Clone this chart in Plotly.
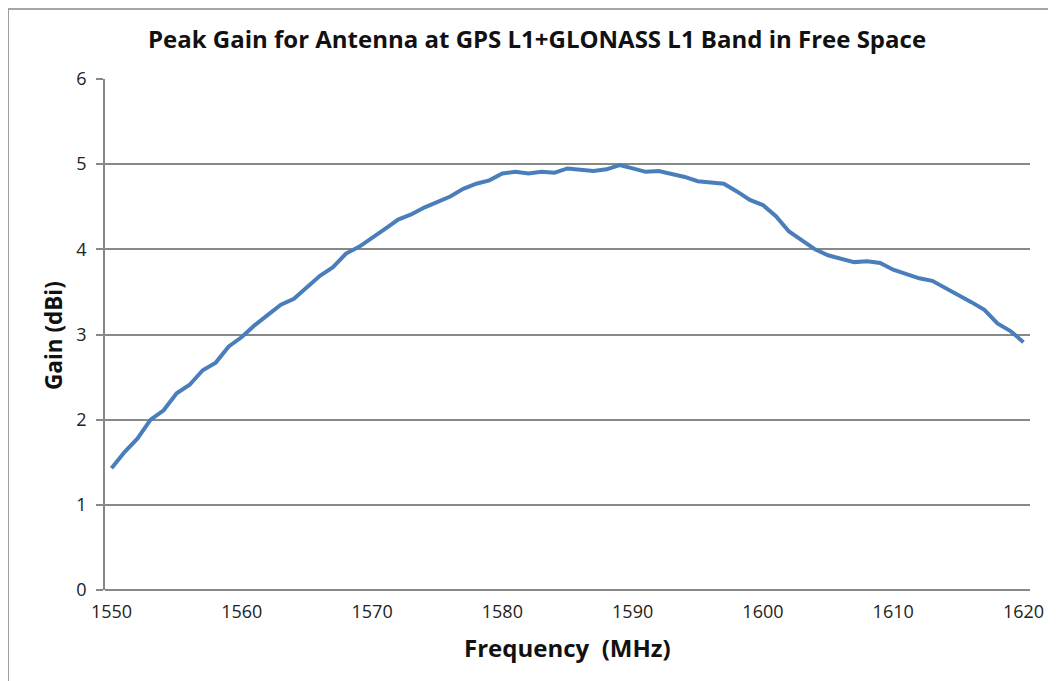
import plotly.graph_objects as go

freq_mhz = list(range(1550, 1621))
gain_dbi = [
    1.43, 1.62, 1.78, 2.00, 2.11, 2.31, 2.41, 2.58, 2.67, 2.86,
    2.97, 3.11, 3.23, 3.35, 3.42, 3.55, 3.69, 3.79, 3.95, 4.03,
    4.13, 4.24, 4.35, 4.41, 4.49, 4.56, 4.62, 4.71, 4.77, 4.81,
    4.89, 4.91, 4.89, 4.91, 4.90, 4.95, 4.94, 4.92, 4.94, 4.99,
    4.95, 4.91, 4.92, 4.89, 4.85, 4.80, 4.79, 4.77, 4.68, 4.58,
    4.52, 4.39, 4.21, 4.10, 4.00, 3.93, 3.89, 3.85, 3.86, 3.84,
    3.76, 3.71, 3.66, 3.63, 3.55, 3.46, 3.38, 3.29, 3.13, 3.04,
    2.91,
]
x_ticks = [1550, 1560, 1570, 1580, 1590, 1600, 1610, 1620]
y_ticks = [0, 1, 2, 3, 4, 5, 6]

title_text = "Peak Gain for Antenna at GPS L1+GLONASS L1 Band in Free Space"
x_title = "Frequency  (MHz)"
y_title = "Gain (dBi)"

# page body has an 8px margin; figure coordinates are screen minus 8
OFF = 8
W, H = 1056, 681
L, T = 105 - OFF, 79 - OFF
pw, ph = 1030 - 105, 590 - 79
R = W - L - pw
B = H - T - ph

def px_to_paper_x(px):
    return (px - OFF - L) / pw

def px_to_paper_y(py):
    return (T + ph - (py - OFF)) / ph

FONT = "Open Sans"
GRID = "#888888"

fig = go.Figure()
fig.add_trace(go.Scatter(
    x=freq_mhz, y=gain_dbi, mode="lines",
    line=dict(color="#4A7EBB", width=4),
    showlegend=False, hoverinfo="x+y",
))

fig.update_layout(
    width=W, height=H,
    margin=dict(l=L, r=R, t=T, b=B),
    paper_bgcolor="white", plot_bgcolor="white",
    font=dict(family=FONT, color="#222222", size=16),
    title=dict(
        text=f"<b>{title_text}</b>",
        x=(537 - OFF) / W, xref="container", xanchor="center",
        y=1 - (40 - OFF) / H, yref="container", yanchor="middle",
        font=dict(family=FONT, size=24, color="#111111"),
    ),
    xaxis=dict(
        range=[1549.5, 1620.5], tickvals=x_ticks, ticktext=[str(v) for v in x_ticks],
        showgrid=False, zeroline=False, showline=False,
        ticks="", tickfont=dict(size=18, family=FONT, color="#222222"),
        ticklabelstandoff=9, fixedrange=True,
    ),
    yaxis=dict(
        range=[0, 6], tickvals=y_ticks, showgrid=True, gridcolor=GRID, gridwidth=1.5,
        zeroline=False, showline=True, linecolor=GRID, linewidth=1.8,
        ticks="outside", ticklen=7, tickcolor=GRID, tickwidth=1.5,
        tickfont=dict(size=18, family=FONT, color="#222222"),
        ticklabelstandoff=6, fixedrange=True,
    ),
    annotations=[
        dict(text=f"<b>{y_title}</b>", textangle=-90, showarrow=False,
             xref="paper", yref="paper", x=px_to_paper_x(53), y=px_to_paper_y(336),
             xanchor="center", yanchor="middle",
             font=dict(family=FONT, size=22.5, color="#111111")),
        dict(text=f"<b>{x_title}</b>", showarrow=False,
             xref="paper", yref="paper", x=px_to_paper_x(567), y=px_to_paper_y(648),
             xanchor="center", yanchor="middle",
             font=dict(family=FONT, size=24, color="#111111")),
    ],
    shapes=[
        dict(type="line", xref="paper", yref="paper", x0=0, x1=1, y0=0, y1=0,
             line=dict(color=GRID, width=2)),
        dict(type="line", xref="paper", yref="paper",
             x0=px_to_paper_x(8), x1=px_to_paper_x(8), y0=px_to_paper_y(9), y1=px_to_paper_y(700),
             line=dict(color=GRID, width=1.6)),
        dict(type="line", xref="paper", yref="paper",
             x0=px_to_paper_x(8), x1=px_to_paper_x(1070), y0=px_to_paper_y(9), y1=px_to_paper_y(9),
             line=dict(color=GRID, width=1.6)),
    ],
)

fig.write_html("out.html")
